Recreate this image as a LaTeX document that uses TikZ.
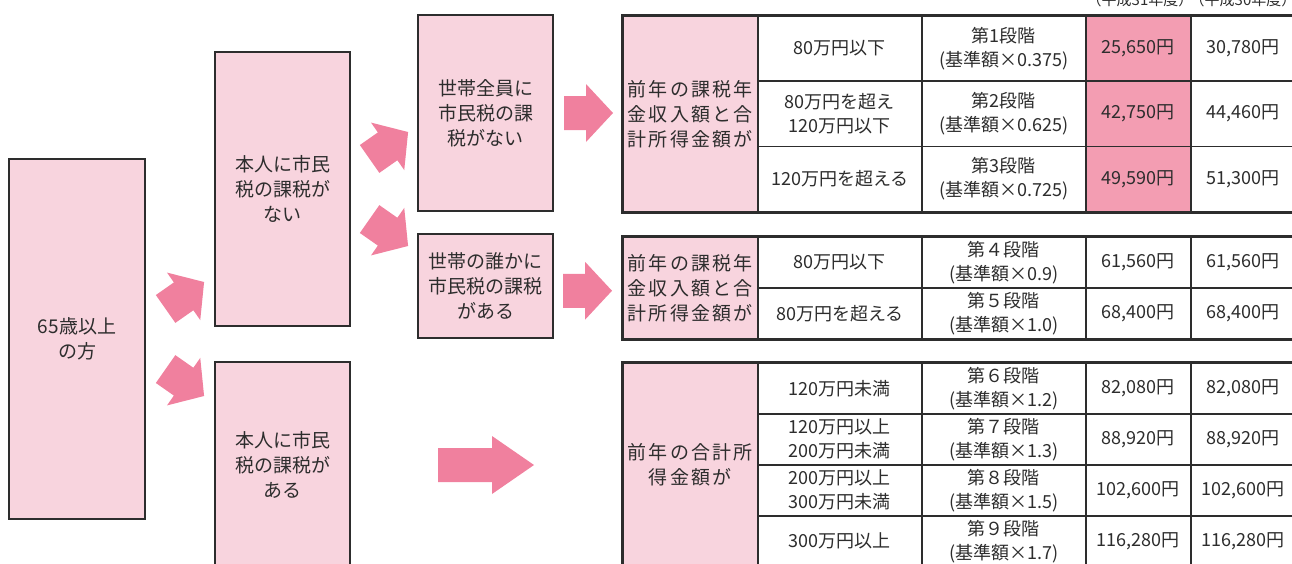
\documentclass[tikz,border=0pt]{standalone}
\usepackage{fontspec}
\setmainfont{Noto Sans CJK JP}
\newfontfamily\widecjk{Noto Sans CJK JP}[LetterSpace=12]
\usetikzlibrary{calc}

\definecolor{boxpink}{RGB}{248,212,222}
\definecolor{arrowpink}{RGB}{240,128,158}
\definecolor{cellpink}{RGB}{243,157,178}
\definecolor{inkgray}{RGB}{45,45,45}

% one row of the table: name, top, height, income, stage, fy31, fy30, fill of fy31
\newcommand{\stagerow}[8]{%
	\node[cell,minimum width=82pt,minimum height=#3]	(#1a)	at (757,#2)		{#4};
	\node[cell,minimum width=82pt,minimum height=#3]	(#1b)	at (921,#2)		{#5};
	\node[cell,fill=#8,minimum width=52.5pt,minimum height=#3]	(#1c)	at (1085,#2)	{#6};
	\node[cell,minimum width=52pt,minimum height=#3]	(#1d)	at (1190,#2)	{#7};}

\begin{document}
\begin{tikzpicture}[x=0.5pt,y=-0.5pt,
						box/.style={draw=inkgray,line width=0.9pt,fill=boxpink,inner sep=0pt,align=center,text=inkgray,font=\fontsize{9.5}{12.5}\selectfont},
						cell/.style={draw=inkgray,line width=0.75pt,fill=white,anchor=north west,inner sep=0pt,align=center,text=inkgray,font=\fontsize{9}{12}\selectfont},
						label/.style={cell,fill=boxpink,minimum width=67.5pt,font=\widecjk\fontsize{9.5}{12.5}\selectfont},
						year/.style={text=inkgray,inner sep=0pt,font=\fontsize{7.5}{9}\selectfont},
						pics/fatarrow/.style 2 args={code={\fill[arrowpink] (0,0) -- (-#1,-29) -- (-#1,-17) -- (-#2,-17) -- (-#2,17) -- (-#1,17) -- (-#1,29) -- cycle;}}]
		\useasboundingbox (0,0) rectangle (1292,563);

		% left side
		\node[box,minimum width=68pt,minimum height=180pt]		(old)	at (77,339)		{65歳以上\\の方};
		\node[box,minimum width=67.5pt,minimum height=137pt]	(bone)	at (282.5,189)	{本人に市民\\税の課税が\\ない};
		\node[box,minimum width=67.5pt,minimum height=103pt]	(btwo)	at (282.5,465)	{本人に市民\\税の課税が\\ある};
		\node[box,minimum width=67.5pt,minimum height=98pt]		(cone)	at (485.5,113)	{世帯全員に\\市民税の課\\税がない};
		\node[box,minimum width=67.5pt,minimum height=52pt]		(ctwo)	at (485.5,286)	{世帯の誰かに\\市民税の課税\\がある};

		% tables
		\node[label,minimum height=98pt]	(labone)	at (622,15)		{前年の課税年\\金収入額と合\\計所得金額が};
		\stagerow{rone}{15}{32.67pt}{80万円以下}{第1段階\\(基準額×0.375)}{25,650円}{30,780円}{cellpink}
		\stagerow{rtwo}{80.33}{32.67pt}{80万円を超え\\120万円以下}{第2段階\\(基準額×0.625)}{42,750円}{44,460円}{cellpink}
		\stagerow{rthree}{145.67}{32.67pt}{120万円を超える}{第3段階\\(基準額×0.725)}{49,590円}{51,300円}{cellpink}

		\node[label,minimum height=51pt]	(labtwo)	at (622,236)	{前年の課税年\\金収入額と合\\計所得金額が};
		\stagerow{rfour}{236}{25.5pt}{80万円以下}{第４段階\\(基準額×0.9)}{61,560円}{61,560円}{white}
		\stagerow{rfive}{287}{25.5pt}{80万円を超える}{第５段階\\(基準額×1.0)}{68,400円}{68,400円}{white}

		\node[label,minimum height=102pt]	(labthree)	at (622,362)	{前年の合計所\\得金額が};
		\stagerow{rsix}{362}{25.5pt}{120万円未満}{第６段階\\(基準額×1.2)}{82,080円}{82,080円}{white}
		\stagerow{rseven}{413}{25.5pt}{120万円以上\\200万円未満}{第７段階\\(基準額×1.3)}{88,920円}{88,920円}{white}
		\stagerow{reight}{464}{25.5pt}{200万円以上\\300万円未満}{第８段階\\(基準額×1.5)}{102,600円}{102,600円}{white}
		\stagerow{rnine}{515}{25.5pt}{300万円以上}{第９段階\\(基準額×1.7)}{116,280円}{116,280円}{white}

		\draw[inkgray,line width=1.1pt] (labone.north west) rectangle (rthreed.south east);
		\draw[inkgray,line width=1.1pt] (labtwo.north west) rectangle (rfived.south east);
		\draw[inkgray,line width=1.1pt] (labthree.north west) rectangle (rnined.south east);

		\node[year]	(fyone)	at (1140,0)	{（平成31年度）};
		\node[year]	(fytwo)	at (1243,0)	{（平成30年度）};

		% arrows
		\pic[rotate=35]		at ($(bone.west |- old.center)+(-10,-57)$)	{fatarrow={25}{47}};
		\pic[rotate=-35]	at ($(btwo.west |- old.center)+(-10,57)$)	{fatarrow={25}{47}};
		\pic[rotate=35]		at ($(cone.west |- bone.center)+(-9,-57)$)	{fatarrow={25}{47}};
		\pic[rotate=-35]	at ($(ctwo.west |- bone.center)+(-9,57)$)	{fatarrow={25}{47}};
		\pic	at ($(labone.west |- cone.center)+(-9,0)$)		{fatarrow={27}{49}};
		\pic	at ($(labtwo.west)+(-10,3)$)					{fatarrow={27}{49}};
		\pic	at ($(labthree.west |- btwo.center)+(-88,0)$)	{fatarrow={42}{96}};
	\end{tikzpicture}
\end{document}
